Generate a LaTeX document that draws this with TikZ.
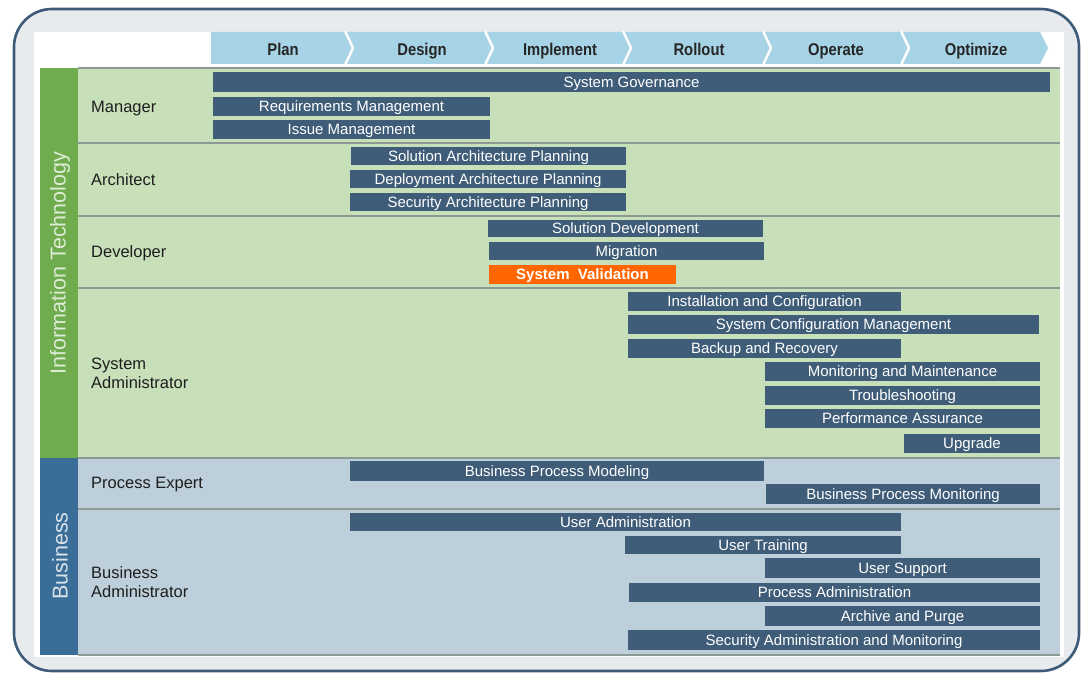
\documentclass[tikz,border=0pt]{standalone}
\usepackage{fontspec}
\setmainfont{Liberation Sans}
\newfontfamily\hdrfont[FakeStretch=0.87,BoldFeatures={FakeStretch=0.87}]{Liberation Sans}

\definecolor{framecol}{HTML}{3D5A78}
\definecolor{framefill}{HTML}{E7EBEE}
\definecolor{chevcol}{HTML}{A6D3E6}
\definecolor{barblue}{HTML}{3F5D78}
\definecolor{valorange}{HTML}{FF6600}
\definecolor{itstrip}{HTML}{6FAC4E}
\definecolor{bizstrip}{HTML}{3A6E99}
\definecolor{itband}{HTML}{C8E0BA}
\definecolor{bizband}{HTML}{BCCFDA}
\definecolor{sepcol}{HTML}{8C9A94}
\definecolor{roletext}{HTML}{1E1E1E}

% task bar: [options]{name}{x1}{x2}{y1}{y2}{text}
\newcommand\tbar[7][]{%
  \pgfmathsetmacro\tbw{#4-#3}%
  \pgfmathsetmacro\tbh{#6-#5}%
  \node[bar,#1,minimum width=\tbw pt,minimum height=\tbh pt] (#2) at ({(#3+#4)/2},{(#5+#6)/2}) {#7};%
}

\begin{document}
\begin{tikzpicture}[x=1pt,y=-1pt,
  bar/.style={fill=barblue,text=white,inner sep=0pt,
    text height=10.6pt,text depth=0pt,
    font=\fontsize{15}{15}\selectfont},
  role/.style={anchor=west,align=left,inner sep=0pt,text=roletext,
    text height=11.8pt,text depth=0pt,
    font=\fontsize{16.5}{19}\selectfont},
  phase/.style={inner sep=0pt,text=black!85,text height=12.2pt,text depth=0pt,
    font=\hdrfont\bfseries\fontsize{17}{18}\selectfont},
  group/.style={rotate=90,inner sep=0pt,font=\fontsize{21.5}{22}\selectfont},
  sep/.style={draw=sepcol,line width=1.6pt}]

\useasboundingbox (0,0) rectangle (1086,674);

% outer frame and white panel
\draw[draw=framecol,fill=framefill,line width=2.6pt,rounded corners=38pt]
  (14,9) rectangle (1079,671);
\fill[white] (34,32) rectangle (1064,657);

% phase chevrons
\fill[chevcol] (211,32) -- (1040,32) -- (1048,48) -- (1040,64) -- (211,64) -- cycle;
\foreach \b in {349,489,627,767,905}
  \draw[white,line width=2.4pt] (\b-4,31) -- (\b+4,48) -- (\b-4,65);
\node[phase] (plan)      at (283,49) {Plan};
\node[phase] (design)    at (422,49) {Design};
\node[phase] (implement) at (560,49) {Implement};
\node[phase] (rollout)   at (699,49) {Rollout};
\node[phase] (operate)   at (836,49) {Operate};
\node[phase] (optimize)  at (976,49) {Optimize};

% group strips and row bands
\fill[itstrip]  (40,68)  rectangle (78,458);
\fill[bizstrip] (40,458) rectangle (78,655);
\fill[itband]   (78,68)  rectangle (1060,458);
\fill[bizband]  (78,458) rectangle (1060,655);
\foreach \y in {68,143,216,288,458,509,655}
  \draw[sep] (78,\y) -- (1060,\y);

\node[group,text=itband!60!white] (itgroup) at (60,263) {Information Technology};
\node[group,text=bizband!60!white] (bizgroup) at (60,556) {Business};

% roles
\node[role] (manager)   at (91,107) {Manager};
\node[role] (architect) at (91,180) {Architect};
\node[role] (developer) at (91,252) {Developer};
\node[role] (sysadmin)  at (91,382.5) {System\\Administrator};
\node[role] (procexp)   at (91,483) {Process Expert};
\node[role] (bizadmin)  at (91,591.5) {Business\\Administrator};

% manager
\tbar{gov}{213}{1050}{72}{92}{System Governance}
\tbar{req}{213}{490}{97}{116}{Requirements Management}
\tbar{issue}{213}{490}{120}{139}{Issue Management}
% architect
\tbar{sap}{351}{626}{147}{165}{Solution Architecture Planning}
\tbar{dap}{350}{626}{170}{188}{Deployment Architecture Planning}
\tbar{secap}{350}{626}{193}{211}{Security Architecture Planning}
% developer
\tbar{soldev}{488}{763}{220}{237}{Solution Development}
\tbar{migr}{489}{764}{242}{260}{Migration}
\tbar[fill=valorange,font=\bfseries\fontsize{15}{15}\selectfont]{valid}{489}{676}{265}{284}{System\ \ Validation}
% system administrator
\tbar{install}{628}{901}{292}{311}{Installation and Configuration}
\tbar{sysconf}{628}{1039}{315}{334}{System Configuration Management}
\tbar{backup}{628}{901}{339}{358}{Backup and Recovery}
\tbar{monit}{765}{1040}{362}{381}{Monitoring and Maintenance}
\tbar{trouble}{765}{1040}{386}{405}{Troubleshooting}
\tbar{perf}{765}{1040}{409}{428}{Performance Assurance}
\tbar{upgrade}{904}{1040}{434}{453}{Upgrade}
% process expert
\tbar{bpmod}{350}{764}{461}{481}{Business Process Modeling}
\tbar{bpmon}{766}{1040}{484}{504}{Business Process Monitoring}
% business administrator
\tbar{useradm}{350}{901}{513}{531}{User Administration}
\tbar{training}{625}{901}{536}{554}{User Training}
\tbar{support}{765}{1040}{558}{578}{User Support}
\tbar{procadm}{629}{1040}{583}{602}{Process Administration}
\tbar{archive}{765}{1040}{606}{626}{Archive and Purge}
\tbar{secadm}{628}{1040}{630}{650}{Security Administration and Monitoring}

\end{tikzpicture}
\end{document}
